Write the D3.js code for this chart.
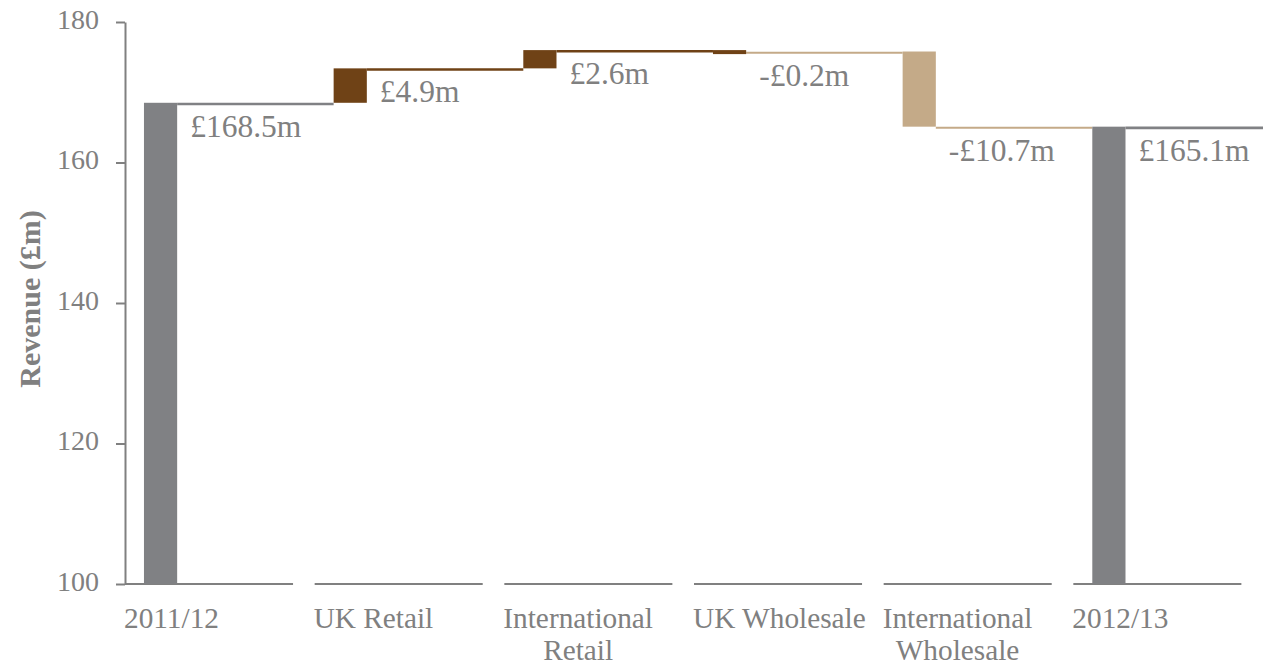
<!DOCTYPE html>
<html>
<head>
<meta charset="utf-8">
<script src="https://cdn.jsdelivr.net/npm/d3@7"></script>
<style>
  html, body { margin: 0; padding: 0; background: #fff; }
  svg { display: block; font-family: "Liberation Serif", "Times New Roman", serif; }
</style>
</head>
<body>
<svg id="chart" width="1263" height="668"></svg>
<script>
// ---- data ----
const categories = ["2011/12", "UK Retail", "International\nRetail", "UK Wholesale", "International\nWholesale", "2012/13"];
const changes = [168.5, 4.9, 2.6, -0.2, -10.7, 165.1];
const kinds = ["total", "delta", "delta", "delta", "delta", "total"];
const valueLabels = ["£168.5m", "£4.9m", "£2.6m", "-£0.2m", "-£10.7m", "£165.1m"];
const yTicks = [100, 120, 140, 160, 180];
const yTitle = "Revenue (£m)";

// ---- styles ----
const TEXT = "#808080";
const GREY = "#808184";
const BROWN = "#6f4216";
const TAN = "#c4aa88";
const barColors = [GREY, BROWN, BROWN, BROWN, TAN, GREY];
const connColors = [GREY, BROWN, BROWN, TAN, TAN, GREY];

// ---- compute waterfall ----
let running = 0;
const bars = categories.map((c, i) => {
  let y0, y1;
  if (kinds[i] === "total") { y0 = 100; y1 = changes[i]; running = changes[i]; }
  else { y0 = running; y1 = running + changes[i]; running = y1; }
  return { cat: c, i, y0, y1, end: kinds[i] === "total" ? changes[i] : y1 };
});

const svg = d3.select("#chart");
const mLeft = 125, mRight = 1263, mTop = 22, mBottom = 584;

const x = d3.scaleBand().domain(categories).range([mLeft, mRight]).padding(0);
const y = d3.scaleLinear().domain([100, 180]).range([mBottom, mTop]);
const bw = x.bandwidth();
const barOff = bw * 0.1, barW = bw * 0.175;

// y axis
const yAxis = svg.append("g")
  .attr("transform", `translate(${mLeft},0)`)
  .call(d3.axisLeft(y).tickValues(yTicks).tickSize(9).tickSizeOuter(0).tickPadding(17));
yAxis.select(".domain").attr("stroke", TEXT).attr("stroke-width", 2);
yAxis.selectAll(".tick line").attr("stroke", TEXT).attr("stroke-width", 2);
yAxis.selectAll(".tick text")
  .attr("fill", TEXT).attr("font-size", 28)
  .attr("font-family", "Liberation Serif").attr("dy", "0.22em");

// y title
svg.append("text")
  .attr("transform", `translate(40,${(mTop + mBottom) / 2 - 4}) rotate(-90)`)
  .attr("text-anchor", "middle")
  .attr("font-size", 30).attr("font-weight", "bold").attr("fill", TEXT)
  .text(yTitle);

// category baseline segments
svg.append("g").selectAll("line").data(categories).join("line")
  .attr("x1", d => x(d)).attr("x2", d => x(d) + bw * 0.886)
  .attr("y1", mBottom).attr("y2", mBottom)
  .attr("stroke", TEXT).attr("stroke-width", 2);

// connectors
svg.append("g").selectAll("line").data(bars).join("line")
  .attr("x1", d => x(d.cat) + barOff + barW)
  .attr("x2", d => d.i < categories.length - 1 ? x(categories[d.i + 1]) + barOff : mRight)
  .attr("y1", d => y(d.end) + 1.2).attr("y2", d => y(d.end) + 1.2)
  .attr("stroke", d => connColors[d.i]).attr("stroke-width", d => connColors[d.i] === TAN ? 2 : 2.6);

// bars
svg.append("g").selectAll("rect").data(bars).join("rect")
  .attr("x", d => x(d.cat) + barOff)
  .attr("width", barW)
  .attr("y", d => Math.min(y(d.y0), y(d.y1)))
  .attr("height", d => Math.max(4, Math.abs(y(d.y0) - y(d.y1))))
  .attr("fill", d => barColors[d.i]);

// value labels
svg.append("g").selectAll("text").data(bars).join("text")
  .attr("x", d => x(d.cat) + barOff + barW + 13)
  .attr("y", d => y(d.end) + 34)
  .attr("font-size", 31.5).attr("fill", TEXT)
  .text(d => valueLabels[d.i]);

// category labels (left-aligned block, lines centred within block)
const catG = svg.append("g");
categories.forEach(c => {
  const lines = c.split("\n");
  const g = catG.append("g");
  const texts = lines.map((ln, k) => g.append("text")
    .attr("y", 628 + k * 32)
    .attr("font-size", 29.3).attr("fill", TEXT)
    .attr("text-anchor", "middle")
    .text(ln));
  const maxW = d3.max(texts, t => t.node().getComputedTextLength());
  texts.forEach(t => t.attr("x", x(c) + maxW / 2 - 1));
});
</script>
</body>
</html>
